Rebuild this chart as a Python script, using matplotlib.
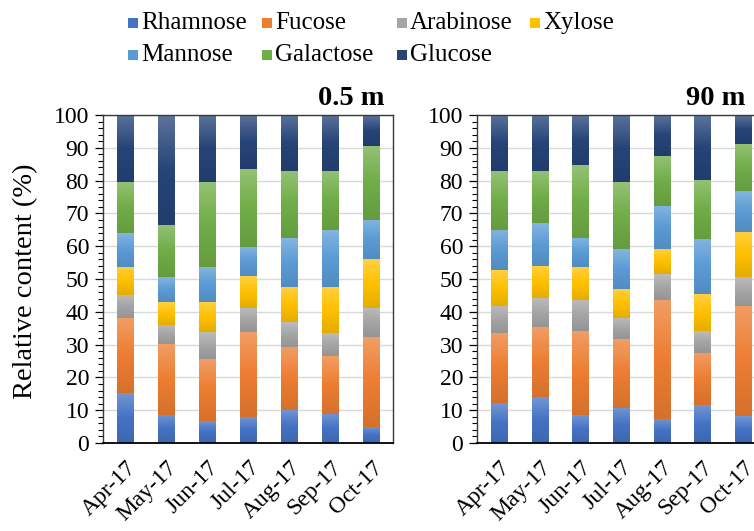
import numpy as np
import matplotlib
matplotlib.use("Agg")
import matplotlib.pyplot as plt
from matplotlib.colors import to_rgb
from matplotlib.patches import Rectangle
from matplotlib.ticker import MultipleLocator

plt.rcParams['font.family'] = ['Liberation Serif', 'DejaVu Serif']

months = ['Apr-17', 'May-17', 'Jun-17', 'Jul-17', 'Aug-17', 'Sep-17', 'Oct-17']
sugars = ['Rhamnose', 'Fucose', 'Arabinose', 'Xylose', 'Mannose', 'Galactose', 'Glucose']
colors = ['#4472C4', '#ED7D31', '#A5A5A5', '#FFC000', '#5B9BD5', '#70AD47', '#264478']

# Relative content (%) of each monosaccharide, 0.5 m depth
rha_05 = [15.2, 8.6, 6.8, 8.0, 10.1, 8.9, 4.9]
fuc_05 = [22.9, 21.6, 18.9, 25.9, 19.3, 17.5, 27.3]
ara_05 = [7.1, 5.8, 8.2, 7.4, 7.4, 7.0, 9.1]
xyl_05 = [8.6, 6.9, 9.0, 9.5, 10.9, 14.3, 14.7]
man_05 = [10.2, 7.6, 10.9, 9.1, 14.7, 17.1, 12.0]
gal_05 = [15.5, 16.0, 25.7, 23.6, 20.5, 18.1, 22.6]
glc_05 = [20.5, 33.5, 20.5, 16.5, 17.1, 17.1, 9.4]

# Relative content (%) of each monosaccharide, 90 m depth
rha_90 = [12.1, 14.0, 8.4, 10.7, 7.4, 11.5, 8.1]
fuc_90 = [21.5, 21.4, 25.7, 20.9, 36.3, 16.0, 33.8]
ara_90 = [8.3, 8.8, 9.6, 6.5, 7.7, 6.6, 8.7]
xyl_90 = [10.9, 9.9, 10.0, 9.0, 7.7, 11.2, 13.8]
man_90 = [12.2, 12.9, 8.9, 12.0, 13.3, 16.8, 12.5]
gal_90 = [17.9, 15.9, 22.2, 20.4, 15.2, 18.1, 14.3]
glc_90 = [17.1, 17.1, 15.2, 20.5, 12.4, 19.8, 8.8]

series_05 = [rha_05, fuc_05, ara_05, xyl_05, man_05, gal_05, glc_05]
series_90 = [rha_90, fuc_90, ara_90, xyl_90, man_90, gal_90, glc_90]

W, H = 754, 531
fig = plt.figure(figsize=(W / 100, H / 100), dpi=100)


def gradient_for(base):
    c = np.array(to_rgb(base))
    top = c + (1 - c) * 0.25
    bottom = c * 0.9
    t = np.linspace(0, 1, 64)[:, None]
    upper = top + (c - top) * np.clip(t * 2, 0, 1)
    lower = c + (bottom - c) * np.clip(t * 2 - 1, 0, 1)
    g = np.where(t < 0.5, upper, lower)
    return g[:, None, :]


def shade(ax, bars, base):
    grad = gradient_for(base)
    for rect in bars:
        x, y = rect.get_x(), rect.get_y()
        w, h = rect.get_width(), rect.get_height()
        ax.imshow(grad, extent=[x, x + w, y, y + h], origin='upper',
                  aspect='auto', interpolation='bilinear', zorder=2.5)


def panel(rect, series):
    ax = fig.add_axes(rect)
    x = np.arange(len(months))
    bottom = np.zeros(len(months))
    for vals, col, name in zip(series, colors, sugars):
        v = np.array(vals, dtype=float)
        bars = ax.bar(x, v, 0.4, bottom=bottom, color=col, label=name,
                      zorder=2, linewidth=0)
        shade(ax, bars, col)
        bottom += v
    ax.set_xlim(-0.55, 6.52)
    ax.set_ylim(0, 100)
    ax.yaxis.set_major_locator(MultipleLocator(10))
    ax.yaxis.set_minor_locator(MultipleLocator(2))
    ax.tick_params(axis='y', which='major', direction='out', length=6,
                   width=0.9, labelsize=17, pad=4)
    ax.tick_params(axis='y', which='minor', direction='out', length=3.5,
                   width=0.8)
    ax.set_xticks(x)
    ax.set_xticklabels(months, rotation=45, ha='right',
                       rotation_mode='anchor', fontsize=17)
    ax.tick_params(axis='x', length=0, pad=10)
    ax.set_axisbelow(True)
    ax.grid(axis='y', which='major', color='#D9D9D9', linewidth=1.0)
    for s in ('top', 'right', 'left'):
        ax.spines[s].set_color('#3a3a3a')
        ax.spines[s].set_linewidth(1.0)
    ax.spines['bottom'].set_color('black')
    ax.spines['bottom'].set_linewidth(1.3)
    return ax


def px(x0, y0, x1, y1):
    return [x0 / W, 1 - y1 / H, (x1 - x0) / W, (y1 - y0) / H]


ax1 = panel(px(103, 115, 393, 443), series_05)
ax2 = panel(px(477, 115, 764, 443), series_90)

fig.text(384 / W, 1 - 105 / H, '0.5 m', ha='right', va='baseline',
         fontsize=20.5, fontweight='bold')
fig.text(745 / W, 1 - 105 / H, '90 m', ha='right', va='baseline',
         fontsize=20.5, fontweight='bold')
fig.text(26 / W, 1 - 281 / H, 'Relative content (%)', rotation=90,
         ha='center', va='center', fontsize=20.5)

# Legend laid out in two rows of four columns
col_x = [128, 262, 397, 530]
row_y = [23, 55]
order = [(0, 0), (0, 1), (0, 2), (0, 3), (1, 0), (1, 1), (1, 2)]
for (r, c), name, col in zip(order, sugars, colors):
    sx, sy = col_x[c], row_y[r]
    fig.patches.append(Rectangle((sx / W, 1 - (sy + 5) / H), 10 / W, 10 / H,
                                 transform=fig.transFigure, facecolor=col,
                                 edgecolor='none'))
    fig.text((sx + 13) / W, 1 - sy / H, name, ha='left', va='center',
             fontsize=18)

fig.savefig('out.png', dpi=100)
